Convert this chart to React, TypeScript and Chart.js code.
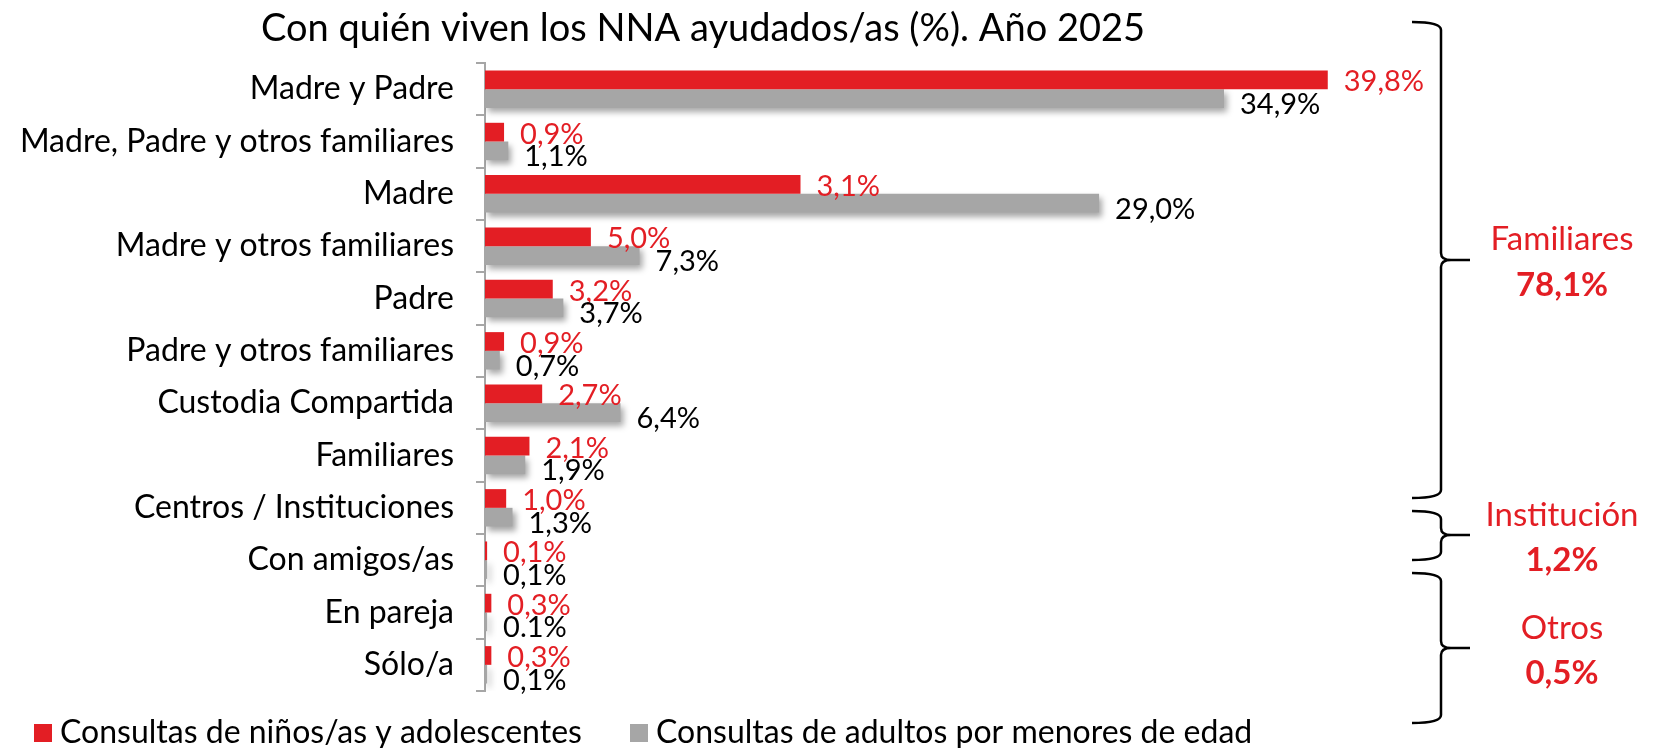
import React, { useEffect, useRef } from 'react';
import { Chart, registerables } from 'chart.js';

Chart.register(...registerables);

const title = 'Con quién viven los NNA ayudados/as (%). Año 2025';
const categories = [
  'Madre y Padre',
  'Madre, Padre y otros familiares',
  'Madre',
  'Madre y otros familiares',
  'Padre',
  'Padre y otros familiares',
  'Custodia Compartida',
  'Familiares',
  'Centros / Instituciones',
  'Con amigos/as',
  'En pareja',
  'Sólo/a',
];
const seriesNames = ['Consultas de niños/as y adolescentes', 'Consultas de adultos por menores de edad'];
const ninosValues = [39.8, 0.9, 14.9, 5.0, 3.2, 0.9, 2.7, 2.1, 1.0, 0.1, 0.3, 0.3];
const ninosLabels = ['39,8%', '0,9%', '3,1%', '5,0%', '3,2%', '0,9%', '2,7%', '2,1%', '1,0%', '0,1%', '0,3%', '0,3%'];
const adultosValues = [34.9, 1.1, 29.0, 7.3, 3.7, 0.7, 6.4, 1.9, 1.3, 0.1, 0.1, 0.1];
const adultosLabels = ['34,9%', '1,1%', '29,0%', '7,3%', '3,7%', '0,7%', '6,4%', '1,9%', '1,3%', '0,1%', '0.1%', '0,1%'];
const groupNames = ['Familiares', 'Institución', 'Otros'];
const groupTotals = ['78,1%', '1,2%', '0,5%'];

const RED = '#E31E24';
const GRAY = '#A6A6A6';
const FONT = "Lato, 'Noto Sans', sans-serif";

// decoration layout (braces on the right)
const braces = [
  { top: 22, tip: 260, bottom: 498, nameY: 250, totalY: 296 },
  { top: 511, tip: 535, bottom: 560, nameY: 526, totalY: 571 },
  { top: 573, tip: 648, bottom: 723, nameY: 639, totalY: 684 },
];

const decorPlugin = {
  id: 'decor',
  beforeDatasetDraw(chart: any, args: any) {
    if (args.index === 1) {
      const ctx = chart.ctx;
      ctx.save();
      ctx.shadowColor = 'rgba(0,0,0,0.35)';
      ctx.shadowBlur = 6;
      ctx.shadowOffsetX = 3;
      ctx.shadowOffsetY = 4;
    }
  },
  afterDatasetDraw(chart: any, args: any) {
    if (args.index === 1) chart.ctx.restore();
  },
  afterDraw(chart: any) {
    const ctx = chart.ctx;
    ctx.save();
    // title
    ctx.fillStyle = '#000';
    ctx.font = `38px ${FONT}`;
    ctx.textAlign = 'center';
    ctx.textBaseline = 'alphabetic';
    ctx.fillText(title, 703, 41);

    // data labels
    const labelSets = [ninosLabels, adultosLabels];
    const colors = [RED, '#000'];
    const dys = [2, 6];
    ctx.font = `29px ${FONT}`;
    ctx.textAlign = 'left';
    ctx.textBaseline = 'middle';
    chart.data.datasets.forEach((ds: any, di: number) => {
      const meta = chart.getDatasetMeta(di);
      meta.data.forEach((bar: any, i: number) => {
        ctx.fillStyle = colors[di];
        ctx.fillText(labelSets[di][i], bar.x + 16, bar.y + dys[di]);
      });
    });

    // legend
    const legendX = [34, 630];
    ctx.font = `32px ${FONT}`;
    ctx.textBaseline = 'alphabetic';
    chart.data.datasets.forEach((ds: any, di: number) => {
      ctx.fillStyle = ds.backgroundColor;
      ctx.fillRect(legendX[di], 724, 18, 18);
      ctx.fillStyle = '#000';
      ctx.fillText(ds.label, legendX[di] + 26, 743);
    });

    // braces
    const x = 1441;
    const L = 1412;
    const tipX = 1470;
    ctx.strokeStyle = '#000';
    ctx.lineWidth = 2.5;
    braces.forEach((b, gi) => {
      ctx.beginPath();
      ctx.moveTo(L, b.top);
      ctx.quadraticCurveTo(x, b.top, x, b.top + 8);
      ctx.lineTo(x, b.tip - 7);
      ctx.quadraticCurveTo(x, b.tip, x + 10, b.tip);
      ctx.lineTo(tipX, b.tip);
      ctx.moveTo(x + 10, b.tip);
      ctx.quadraticCurveTo(x, b.tip, x, b.tip + 7);
      ctx.lineTo(x, b.bottom - 8);
      ctx.quadraticCurveTo(x, b.bottom, L, b.bottom);
      ctx.stroke();

      ctx.fillStyle = RED;
      ctx.textAlign = 'center';
      ctx.font = `33px ${FONT}`;
      ctx.fillText(groupNames[gi], 1562, b.nameY);
      ctx.font = `bold 33px ${FONT}`;
      ctx.fillText(groupTotals[gi], 1562, b.totalY);
    });
    ctx.restore();
  },
};

export default function App() {
  const ref = useRef<HTMLCanvasElement | null>(null);
  useEffect(() => {
    if (!ref.current) return;
    const chart = new Chart(ref.current, {
      type: 'bar',
      data: {
        labels: categories,
        datasets: [
          { label: seriesNames[0], data: ninosValues, backgroundColor: RED, categoryPercentage: 0.715, barPercentage: 1 },
          { label: seriesNames[1], data: adultosValues, backgroundColor: GRAY, categoryPercentage: 0.715, barPercentage: 1 },
        ],
      },
      options: {
        indexAxis: 'y',
        animation: false,
        responsive: false,
        maintainAspectRatio: false,
        layout: { padding: { top: 63, bottom: 57, left: 0, right: 324 } },
        scales: {
          x: { display: false, min: 0, max: 40 },
          y: {
            afterFit: (s: any) => {
              s.width = 485;
            },
            grid: { display: true, drawOnChartArea: false, drawTicks: true, tickLength: 9, color: GRAY, lineWidth: 2 },
            border: { display: true, color: GRAY, width: 2 },
            ticks: { color: '#000', font: { family: FONT, size: 32 }, padding: 22, autoSkip: false },
          },
        },
        plugins: { legend: { display: false }, title: { display: false }, tooltip: { enabled: false } },
      } as any,
      plugins: [decorPlugin],
    });
    return () => chart.destroy();
  }, []);
  return (
    <canvas
      ref={ref}
      width={1656}
      height={748}
      style={{ position: 'absolute', left: 0, top: 0, width: 1656, height: 748 }}
    />
  );
}
